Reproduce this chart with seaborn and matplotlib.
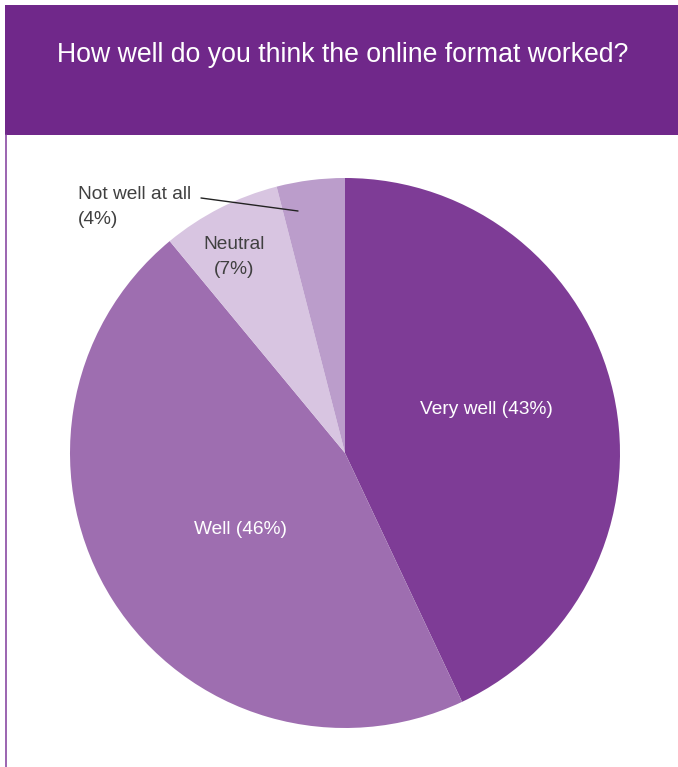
import matplotlib
matplotlib.use("Agg")
import matplotlib.pyplot as plt
from matplotlib.patches import Rectangle
from matplotlib.lines import Line2D
import seaborn as sns

sns.set_theme(style="white")
plt.rcParams['font.family'] = ['Liberation Sans', 'DejaVu Sans']

title = "How well do you think the online format worked?"
categories = ["Very well", "Well", "Neutral", "Not well at all"]
values = [43, 46, 7, 4]
colors = ["#7e3c96", "#9e6eb0", "#d8c5e1", "#bb9dcb"]
label_texts = ["Very well (43%)", "Well (46%)", "Neutral\n(7%)", "Not well at all\n(4%)"]

W, H = 678, 767
fig = plt.figure(figsize=(W / 100, H / 100), dpi=100)
fig.patch.set_facecolor("white")

# header band
fig.patches.append(Rectangle((5 / W, (H - 135) / H), 1 - 5 / W, 130 / H,
                             transform=fig.transFigure, facecolor="#70288a",
                             edgecolor="none", zorder=0))
# left border line
fig.lines.append(Line2D([5.5 / W, 5.5 / W], [0, (H - 135) / H], transform=fig.transFigure,
                        color="#8a4aa3", linewidth=1.2))
fig.text(343 / W, (H - 55) / H, title, ha="center", va="center", color="white",
         fontsize=19.2)

cx, cy, r = 345, 453, 275
ax = fig.add_axes([(cx - r) / W, (H - cy - r) / H, 2 * r / W, 2 * r / H])
ax.pie(values, colors=colors, startangle=90, counterclock=False, radius=1,
       wedgeprops=dict(linewidth=0))
ax.set_xlim(-1, 1)
ax.set_ylim(-1, 1)
ax.set_aspect("equal")
ax.axis("off")

def d(px, py):
    return ((px - cx) / r, (cy - py) / r)

fs = 13.8
ax.text(*d(486, 409), label_texts[0], ha="center", va="center", color="white", fontsize=fs)
ax.text(*d(240, 529), label_texts[1], ha="center", va="center", color="white", fontsize=fs)
ax.text(*d(234, 257), label_texts[2], ha="center", va="center", color="#404040",
        fontsize=fs, linespacing=1.62)
ax.text(*d(78, 207), label_texts[3], ha="left", va="center", color="#404040",
        fontsize=fs, linespacing=1.62)
x0, y0 = d(201, 198)
x1, y1 = d(298, 211)
ax.plot([x0, x1], [y0, y1], color="#222222", linewidth=1.0, clip_on=False)

fig.savefig("out.png", dpi=100, facecolor="white")
